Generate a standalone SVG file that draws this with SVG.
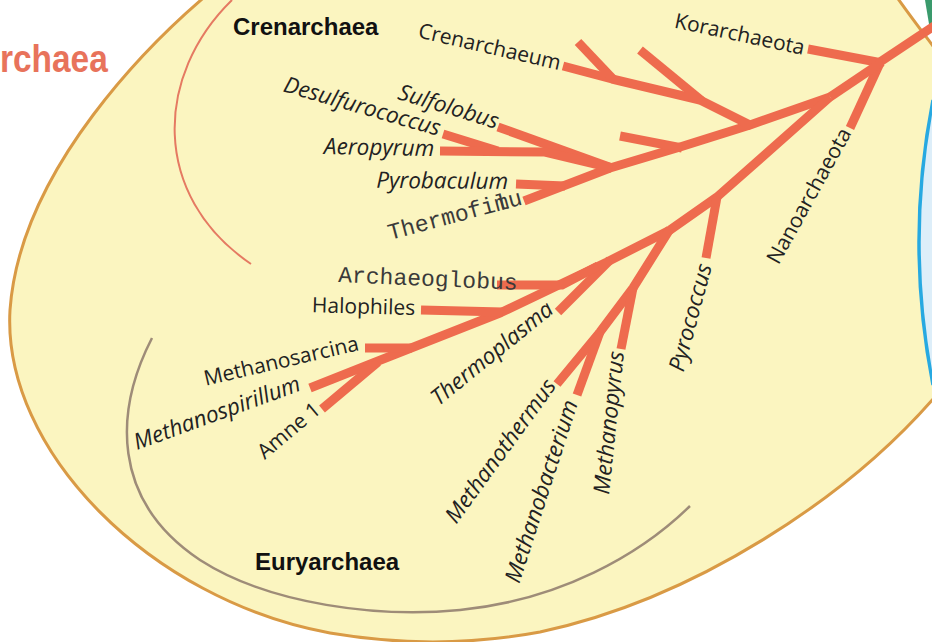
<svg xmlns="http://www.w3.org/2000/svg" width="932" height="642" viewBox="0 0 932 642">
<style>
.br{fill:none;stroke:#EE6B4E;stroke-width:9;stroke-linecap:butt;stroke-linejoin:round}
.sp{font-family:"Open Sans","Liberation Sans",sans-serif;font-size:21px;fill:#222}
.it{font-style:italic;font-size:22.5px}
.mono{font-family:"Liberation Mono","Courier New",monospace;font-size:23px;fill:#3a3a3a}
.grp{font-family:"Liberation Sans",Arial,sans-serif;font-weight:bold;font-size:24px;fill:#111}
</style>
<rect width="932" height="642" fill="#ffffff"/>
<g id="blob">
<path d="M 225,-20 C 150,40 20,170 10,310 C 2,450 150,600 330,633 C 400,645 470,645 540,632 C 690,600 850,500 945,385 L 945,62 C 925,35 905,10 885,-20 Z" fill="#FBF5C0" stroke="#D99A45" stroke-width="3"/>
</g>
<g id="other-domains">
<path d="M 925,0 L 932,0 L 932,26 L 929,24 Z" fill="#3A9A6C"/>
<path d="M 933,100 Q 905,242 933,385 L 945,385 L 945,100 Z" fill="#DDEEF9"/>
<path d="M 933,100 Q 905,242 933,385" fill="none" stroke="#27A9E1" stroke-width="3.5"/>
</g>
<g id="title-archaea">
<text x="0" y="72" transform="scale(0.88,1)" font-family="Liberation Sans, Arial, sans-serif" font-weight="bold" font-size="38" fill="#E8735B">rchaea</text>
</g>
<g id="arcs">
<path d="M 232,0 C 155,75 150,195 251,264" fill="none" stroke="#E57A62" stroke-width="2"/>
<path d="M 152,338 C 115,410 110,500 200,560 C 270,605 380,618 460,610 C 560,600 640,555 690,506" fill="none" stroke="#9E8C78" stroke-width="2.5"/>
</g>
<g id="connectors">
<polyline class="br" points="940,22 880,62"/>
<polyline class="br" points="808,49 882,63"/>
<polyline class="br" points="880,63 850,128"/>
<polyline class="br" points="882,62 830,97"/>
<polyline class="br" points="830,97 750,125 680,147 610,168 524,201"/>
<polyline class="br" points="563,66 612,79 700,100 752,126"/>
<polyline class="br" points="578,42 614,80"/>
<polyline class="br" points="640,50 702,101"/>
<polyline class="br" points="620,136 682,148"/>
<polyline class="br" points="498,127 612,168"/>
<polyline class="br" points="443,134 498,151"/>
<polyline class="br" points="440,151 545,152 612,168"/>
<polyline class="br" points="516,184 565,186"/>
<polyline class="br" points="830,97 717,197 670,230 607,262 500,313 373,363 310,388"/>
<polyline class="br" points="717,197 706,258"/>
<polyline class="br" points="670,229 633,288 600,332 557,384"/>
<polyline class="br" points="633,288 621,349"/>
<polyline class="br" points="600,332 577,395"/>
<polyline class="br" points="610,260 558,312"/>
<polyline class="br" points="497,285 562,285 598,266"/>
<polyline class="br" points="421,310 503,312"/>
<polyline class="br" points="365,348 412,348"/>
<polyline class="br" points="322,409 378,362"/>
</g>
<g id="crenarchaea"><text class="grp" x="233" y="35">Crenarchaea</text></g>
<g id="euryarchaea"><text class="grp" x="255" y="570">Euryarchaea</text></g>
<g id="crenarchaeum"><text class="sp" text-anchor="end" transform="translate(559,70) rotate(13)">Crenarchaeum</text></g>
<g id="korarchaeota"><text class="sp" text-anchor="end" transform="translate(803,55) rotate(12)">Korarchaeota</text></g>
<g id="desulfurococcus"><text class="sp it" text-anchor="end" transform="translate(438,136) rotate(16)">Desulfurococcus</text></g>
<g id="sulfolobus"><text class="sp it" text-anchor="end" transform="translate(496,129) rotate(17)">Sulfolobus</text></g>
<g id="aeropyrum"><text class="sp it" text-anchor="end" transform="translate(434,156) rotate(1)">Aeropyrum</text></g>
<g id="pyrobaculum"><text class="sp it" text-anchor="end" transform="translate(508,189) rotate(0.5)">Pyrobaculum</text></g>
<g id="thermofilum" transform="translate(390,240) rotate(-15)"><text class="mono" x="0" y="0">Thermofim</text><text class="mono" x="110.4" y="0">lu</text></g>
<g id="archaeoglobus"><text class="mono" transform="translate(338,282) rotate(2.5)">Archaeoglobus</text></g>
<g id="halophiles"><text class="sp" font-size="23" text-anchor="end" transform="translate(415,315) rotate(1.5)">Halophiles</text></g>
<g id="methanosarcina"><text class="sp" text-anchor="end" transform="translate(360,350) rotate(-13)">Methanosarcina</text></g>
<g id="methanospirillum"><text class="sp it" text-anchor="end" transform="translate(302,390) rotate(-20)">Methanospirillum</text></g>
<g id="amne1"><text class="sp" text-anchor="end" transform="translate(322,412) rotate(-40)">Amne 1</text></g>
<g id="thermoplasma"><text class="sp it" text-anchor="end" transform="translate(555,312) rotate(-39)">Thermoplasma</text></g>
<g id="methanothermus"><text class="sp it" text-anchor="end" transform="translate(557,386) rotate(-54)">Methanothermus</text></g>
<g id="methanobacterium"><text class="sp it" text-anchor="end" transform="translate(578,403) rotate(-72)">Methanobacterium</text></g>
<g id="methanopyrus"><text class="sp it" text-anchor="end" transform="translate(624,352) rotate(-84)">Methanopyrus</text></g>
<g id="pyrococcus"><text class="sp it" text-anchor="end" transform="translate(712,266) rotate(-75)">Pyrococcus</text></g>
<g id="nanoarchaeota"><text class="sp" text-anchor="end" transform="translate(852,133) rotate(-61)">Nanoarchaeota</text></g>
</svg>
